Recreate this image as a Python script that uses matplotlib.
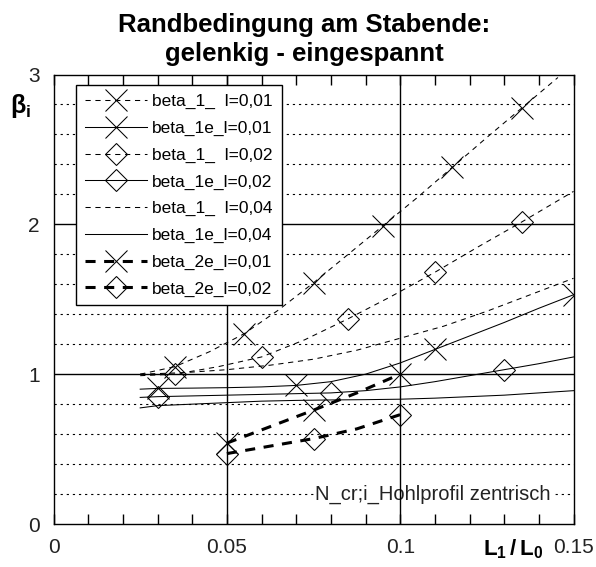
import matplotlib
matplotlib.use("Agg")
import matplotlib.pyplot as plt
from matplotlib.lines import Line2D

plt.rcParams['font.family'] = ['Liberation Sans', 'DejaVu Sans']
plt.rcParams['mathtext.fontset'] = 'custom'
plt.rcParams['mathtext.rm'] = 'Liberation Sans'
plt.rcParams['mathtext.bf'] = 'Liberation Sans:bold'

# beta_1_ l=0,01 (thin dashed, X markers)
x_b1_01 = [0.025, 0.035, 0.045, 0.055, 0.065, 0.075, 0.085, 0.095, 0.105, 0.115, 0.125, 0.135, 0.1455]
y_b1_01 = [1.00, 1.05, 1.15, 1.27, 1.43, 1.61, 1.80, 1.99, 2.18, 2.38, 2.58, 2.775, 2.98]

# beta_1_ l=0,02 (thin dashed, diamonds)
x_b1_02 = [0.025, 0.035, 0.0475, 0.06, 0.0725, 0.085, 0.0975, 0.11, 0.1225, 0.135, 0.15]
y_b1_02 = [0.99, 1.00, 1.05, 1.115, 1.23, 1.37, 1.52, 1.68, 1.85, 2.015, 2.22]

# beta_1_ l=0,04 (thin dashed, no markers)
x_b1_04 = [0.025, 0.0375, 0.05, 0.0625, 0.075, 0.0875, 0.1, 0.1125, 0.125, 0.1375, 0.15]
y_b1_04 = [1.00, 1.01, 1.03, 1.06, 1.10, 1.16, 1.24, 1.32, 1.42, 1.53, 1.64]

# beta_1e_ curves (solid)
x_b1e = [0.025, 0.03, 0.04, 0.05, 0.06, 0.07, 0.08, 0.09, 0.10, 0.11, 0.12, 0.13, 0.14, 0.15]
y_b1e_01 = [0.90, 0.905, 0.907, 0.91, 0.915, 0.925, 0.95, 1.00, 1.075, 1.165, 1.255, 1.345, 1.44, 1.53]
y_b1e_02 = [0.845, 0.85, 0.855, 0.86, 0.865, 0.87, 0.875, 0.89, 0.915, 0.95, 0.99, 1.03, 1.07, 1.115]
y_b1e_04 = [0.775, 0.79, 0.80, 0.81, 0.82, 0.825, 0.828, 0.83, 0.833, 0.84, 0.85, 0.86, 0.875, 0.89]

# beta_2e_ curves (thick dashed)
x_b2e = [0.05, 0.0625, 0.075, 0.0875, 0.10]
y_b2e_01 = [0.54, 0.65, 0.76, 0.875, 1.00]
y_b2e_02 = [0.47, 0.52, 0.57, 0.635, 0.73]

labels = ["beta_1_  l=0,01", "beta_1e_l=0,01", "beta_1_  l=0,02", "beta_1e_l=0,02",
          "beta_1_  l=0,04", "beta_1e_l=0,04", "beta_2e_l=0,01", "beta_2e_l=0,02"]

thin_dash = (0, (5, 4.5))
thick_dash = (0, (3.3, 2.8))
ms_x = 16.5
ms_d = 11.7

fig = plt.figure(figsize=(5.96, 5.67), dpi=100)
ax = fig.add_axes([0.0898, 0.0758, 0.8725, 0.7928])

# grid
for g in [0.2, 0.4, 0.6, 0.8, 1.2, 1.4, 1.6, 1.8, 2.2, 2.4, 2.6, 2.8]:
    ax.axhline(g, color='black', lw=0.8, ls=(0, (2, 3.5)), zorder=1)
for g in [1, 2]:
    ax.axhline(g, color='black', lw=1.0, zorder=1)
for g in [0.05, 0.1]:
    ax.axvline(g, color='black', lw=1.0, zorder=3)

ax.text(0.1435, 0.2, "N_cr;i_Hohlprofil zentrisch", ha='right', va='center', fontsize=14.5,
        color='#222222', zorder=2, bbox=dict(facecolor='white', edgecolor='none', pad=0.5))

kw = dict(color='black', lw=0.75, mfc='none', mec='black', mew=0.75, zorder=4)
ax.plot(x_b1_01, y_b1_01, ls=thin_dash, marker='x', ms=ms_x, markevery=[1, 3, 5, 7, 9, 11], **kw)
ax.plot(x_b1e, y_b1e_01, ls='-', marker='x', ms=ms_x, markevery=[1, 5, 9, 13], **kw)
ax.plot(x_b1_02, y_b1_02, ls=thin_dash, marker='D', ms=ms_d, markevery=[1, 3, 5, 7, 9], **kw)
ax.plot(x_b1e, y_b1e_02, ls='-', marker='D', ms=ms_d, markevery=[1, 6, 11], **kw)
ax.plot(x_b1_04, y_b1_04, ls=thin_dash, **kw)
ax.plot(x_b1e, y_b1e_04, ls='-', **kw)
kw2 = dict(kw, lw=2.2)
ax.plot(x_b2e, y_b2e_01, ls=thick_dash, marker='x', ms=ms_x, markevery=[0, 2, 4], **kw2)
ax.plot(x_b2e, y_b2e_02, ls=thick_dash, marker='D', ms=ms_d, markevery=[0, 2, 4], **kw2)

# legend with proxy handles
styles = [(thin_dash, 'x', ms_x, 0.75), ('-', 'x', ms_x, 0.75), (thin_dash, 'D', ms_d, 0.75),
          ('-', 'D', ms_d, 0.75), (thin_dash, 'None', 0, 0.75), ('-', 'None', 0, 0.75),
          (thick_dash, 'x', ms_x, 2.2), (thick_dash, 'D', ms_d, 2.2)]
handles = [Line2D([], [], color='black', ls=s[0], marker=s[1], ms=s[2], lw=s[3],
                  mfc='none', mec='black', mew=0.75) for s in styles]
leg = ax.legend(handles, labels, loc='upper left', bbox_to_anchor=(0.043, 0.976),
                borderaxespad=0, fontsize=12.5, handlelength=3.6, handletextpad=0.3,
                labelspacing=0.66, borderpad=0.5, fancybox=False, framealpha=1,
                edgecolor='black')
leg.get_frame().set_linewidth(1.0)
leg.set_zorder(5)

ax.set_xlim(0, 0.15)
ax.set_ylim(0, 3)
ax.set_xticks([0, 0.05, 0.1, 0.15])
ax.set_xticklabels(['0', '0.05', '0.1', '0.15'])
ax.set_xticks([i / 100 for i in range(1, 15)], minor=True)
ax.set_yticks([0, 1, 2, 3])
ax.tick_params(axis='x', which='both', direction='in', top=True, length=7, width=1, pad=10,
               labelsize=15, labelcolor='#222222')
ax.tick_params(axis='y', which='both', direction='in', length=0, pad=10,
               labelsize=15, labelcolor='#222222')
for sp in ax.spines.values():
    sp.set_linewidth(1.0)

ax.text(-0.064, 2.79, r'$\mathbf{\beta_i}$', transform=ax.get_yaxis_transform(),
        ha='center', va='center', fontsize=18)
ax.text(0.1325, -0.069, r'$\mathbf{L_1\,/\,L_0}$', transform=ax.get_xaxis_transform(),
        ha='center', va='baseline', fontsize=16)

fig.text(0.51, 1 - 32 / 567, "Randbedingung am Stabende:", ha='center', va='baseline',
         fontsize=18.5, fontweight='bold')
fig.text(0.51, 1 - 61 / 567, "gelenkig - eingespannt", ha='center', va='baseline',
         fontsize=18.5, fontweight='bold')

fig.savefig('out.png', dpi=100)
